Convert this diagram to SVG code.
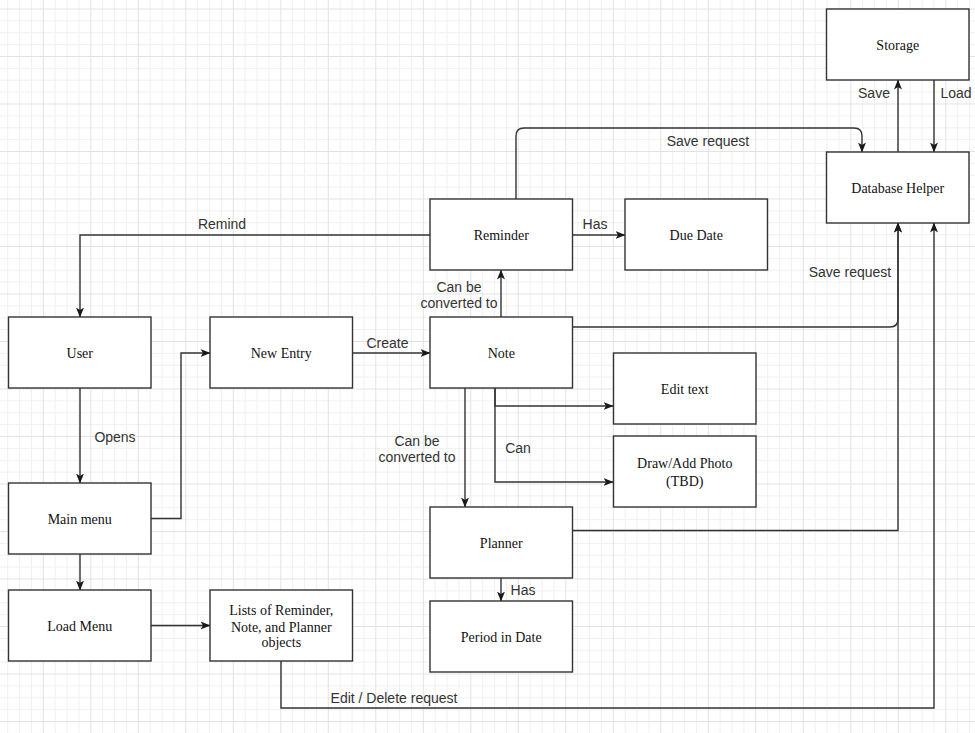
<svg xmlns="http://www.w3.org/2000/svg" width="975" height="733" viewBox="0 0 975 733">
<defs>
<pattern id="grid" patternUnits="userSpaceOnUse" x="42.8" y="8.5" width="47.5" height="47.5">
<path d="M12.375,0V47.5M24.25,0V47.5M36.125,0V47.5M0,12.375H47.5M0,24.25H47.5M0,36.125H47.5" stroke="#f0f0f0" stroke-width="1" fill="none"/>
<path d="M0.5,0V47.5M0,0.5H47.5" stroke="#e2e2e2" stroke-width="1" fill="none"/>
</pattern>
<marker id="arr" viewBox="0 0 10 8" refX="9.5" refY="4" markerWidth="10" markerHeight="8" markerUnits="userSpaceOnUse" orient="auto">
<path d="M0,0 L10,4 L0,8 L2.5,4 Z" fill="#1a1a1a"/>
</marker>
<style>
.box{fill:#fff;stroke:#333;stroke-width:1.4}
.nt{font-family:"Liberation Serif","Times New Roman",serif;font-size:14px;fill:#111;text-anchor:middle}
.el{font-family:"Liberation Sans",Arial,sans-serif;font-size:14px;fill:#333;text-anchor:middle}
.cn{fill:none;stroke:#333;stroke-width:1.4}
.ar{marker-end:url(#arr)}
</style>
</defs>
<rect width="975" height="733" fill="#fff"/>
<rect width="975" height="733" fill="url(#grid)"/>

<g id="connectors">
<path class="cn ar" d="M430,235 H80 V317"/>
<path class="cn ar" d="M80,388 V483"/>
<path class="cn ar" d="M151,518.5 H181 V353 H210"/>
<path class="cn ar" d="M80,554 V590"/>
<path class="cn ar" d="M151,625.5 H210"/>
<path class="cn ar" d="M281,661 V708 H934 V223"/>
<path class="cn ar" d="M352,353 H430"/>
<path class="cn ar" d="M501,317 V270"/>
<path class="cn ar" d="M572,235 H625"/>
<path class="cn ar" d="M516,199 V136 Q516,128 524,128 H854 Q862,128 862,136 V152"/>
<path class="cn ar" d="M572,327 H890 Q898,327 898,319 V223"/>
<path class="cn ar" d="M898,152 V80"/>
<path class="cn ar" d="M934,80 V152"/>
<path class="cn ar" d="M495,388 V406 H613"/>
<path class="cn ar" d="M495,388 V482 H613"/>
<path class="cn ar" d="M465,388 V507"/>
<path class="cn ar" d="M572,530.5 H898 V223"/>
<path class="cn ar" d="M501,578 V601"/>
<text class="el" x="222" y="229">Remind</text>
<text class="el" x="115" y="442">Opens</text>
<text class="el" x="387.5" y="347.5">Create</text>
<text class="el" x="595" y="229">Has</text>
<text class="el" x="708" y="145.5">Save request</text>
<text class="el" x="850" y="276.5">Save request</text>
<text class="el" x="874" y="97.5">Save</text>
<text class="el" x="956" y="97.5">Load</text>
<text class="el" x="459" y="291.5">Can be</text>
<text class="el" x="459" y="308">converted to</text>
<text class="el" x="417" y="445.5">Can be</text>
<text class="el" x="417" y="461.5">converted to</text>
<text class="el" x="518" y="453">Can</text>
<text class="el" x="523" y="595">Has</text>
<text class="el" x="394" y="702.5">Edit / Delete request</text>
</g>

<g id="storage"><rect class="box" x="826.5" y="9" width="142.5" height="71"/><text class="nt" x="897.75" y="49.5">Storage</text></g>
<g id="database-helper"><rect class="box" x="826.5" y="152" width="142.5" height="71"/><text class="nt" x="897.75" y="192.5">Database Helper</text></g>
<g id="reminder"><rect class="box" x="430" y="199" width="142.5" height="71"/><text class="nt" x="501.25" y="239.5">Reminder</text></g>
<g id="due-date"><rect class="box" x="625" y="199" width="142.5" height="71"/><text class="nt" x="696.25" y="239.5">Due Date</text></g>
<g id="user"><rect class="box" x="8.5" y="317" width="142.5" height="71"/><text class="nt" x="79.75" y="357.5">User</text></g>
<g id="new-entry"><rect class="box" x="210" y="317" width="142.5" height="71"/><text class="nt" x="281.25" y="357.5">New Entry</text></g>
<g id="note"><rect class="box" x="430" y="317" width="142.5" height="71"/><text class="nt" x="501.25" y="357.5">Note</text></g>
<g id="edit-text"><rect class="box" x="613.5" y="353" width="142.5" height="71"/><text class="nt" x="684.75" y="393.5">Edit text</text></g>
<g id="draw-photo"><rect class="box" x="613.5" y="436" width="142.5" height="71"/><text class="nt" x="684.75" y="468">Draw/Add Photo</text><text class="nt" x="684.75" y="486">(TBD)</text></g>
<g id="main-menu"><rect class="box" x="8.5" y="483" width="142.5" height="71"/><text class="nt" x="79.75" y="523.5">Main menu</text></g>
<g id="planner"><rect class="box" x="430" y="507" width="142.5" height="71"/><text class="nt" x="501.25" y="547.5">Planner</text></g>
<g id="load-menu"><rect class="box" x="8.5" y="590" width="142.5" height="71"/><text class="nt" x="79.75" y="630.5">Load Menu</text></g>
<g id="lists"><rect class="box" x="210" y="590" width="142.5" height="71"/><text class="nt" x="281.25" y="615">Lists of Reminder,</text><text class="nt" x="281.25" y="631.5">Note, and Planner</text><text class="nt" x="281.25" y="647">objects</text></g>
<g id="period-in-date"><rect class="box" x="430" y="601" width="142.5" height="71"/><text class="nt" x="501.25" y="641.5">Period in Date</text></g>
</svg>
